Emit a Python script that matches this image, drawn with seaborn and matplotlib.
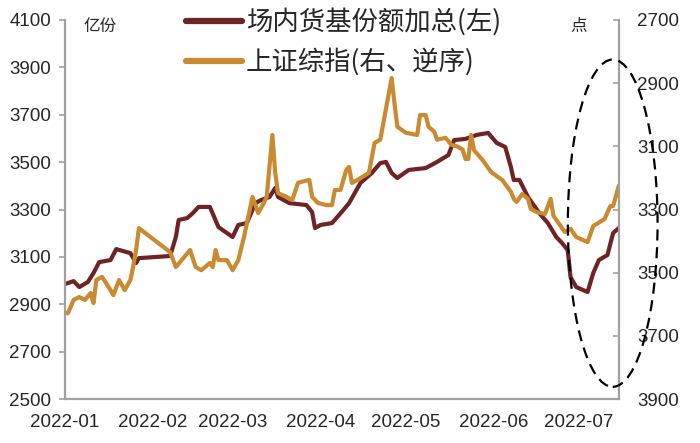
import matplotlib
matplotlib.use("Agg")
import matplotlib.pyplot as plt
import matplotlib.dates as mdates
from matplotlib.patches import Ellipse
import pandas as pd
import seaborn as sns

# 场内货基份额加总 (亿份, left axis)
fund_dates = [
    "2022-01-01", "2022-01-04", "2022-01-06", "2022-01-09", "2022-01-11", "2022-01-13",
    "2022-01-17", "2022-01-19", "2022-01-24", "2022-01-26", "2022-01-27", "2022-02-07",
    "2022-02-09", "2022-02-10", "2022-02-13", "2022-02-15", "2022-02-17", "2022-02-21",
    "2022-02-24", "2022-03-01", "2022-03-03", "2022-03-06", "2022-03-09", "2022-03-11",
    "2022-03-14", "2022-03-16", "2022-03-17", "2022-03-21", "2022-03-27", "2022-03-29",
    "2022-03-30", "2022-04-01", "2022-04-05", "2022-04-09", "2022-04-11", "2022-04-15",
    "2022-04-19", "2022-04-22", "2022-04-24", "2022-04-26", "2022-04-28", "2022-05-02",
    "2022-05-08", "2022-05-12", "2022-05-16", "2022-05-18", "2022-05-22", "2022-05-26",
    "2022-05-30", "2022-06-02", "2022-06-05", "2022-06-07", "2022-06-08", "2022-06-10",
    "2022-06-13", "2022-06-17", "2022-06-20", "2022-06-23", "2022-06-25", "2022-06-27",
    "2022-06-28", "2022-06-30", "2022-07-04", "2022-07-06", "2022-07-08", "2022-07-11",
    "2022-07-13", "2022-07-15",
]
fund_values = [
    2986, 2998, 2973, 2994, 3032, 3078,
    3087, 3133, 3116, 3074, 3095, 3104,
    3184, 3256, 3264, 3285, 3311, 3311,
    3226, 3184, 3235, 3243, 3327, 3340,
    3353, 3391, 3353, 3327, 3319, 3289,
    3222, 3235, 3243, 3298, 3327, 3412,
    3454, 3496, 3501, 3454, 3433, 3467,
    3475, 3501, 3530, 3593, 3598, 3615,
    3623, 3581, 3564, 3479, 3425, 3425,
    3353, 3285, 3243, 3184, 3159, 3129,
    3015, 2973, 2952, 3032, 3087, 3108,
    3201, 3222,
]

# 上证综指 (点, right axis, reversed)
sse_dates = [
    "2022-01-01", "2022-01-02", "2022-01-04", "2022-01-06", "2022-01-08", "2022-01-10",
    "2022-01-11", "2022-01-12", "2022-01-14", "2022-01-17", "2022-01-18", "2022-01-20",
    "2022-01-22", "2022-01-24", "2022-01-25", "2022-01-26", "2022-01-27", "2022-02-07",
    "2022-02-09", "2022-02-12", "2022-02-14", "2022-02-16", "2022-02-18", "2022-02-21",
    "2022-02-22", "2022-02-23", "2022-02-24", "2022-02-27", "2022-03-01", "2022-03-03",
    "2022-03-05", "2022-03-07", "2022-03-08", "2022-03-10", "2022-03-12", "2022-03-13",
    "2022-03-15", "2022-03-16", "2022-03-17", "2022-03-20", "2022-03-22", "2022-03-24",
    "2022-03-25", "2022-03-28", "2022-03-29", "2022-03-31", "2022-04-03", "2022-04-05",
    "2022-04-06", "2022-04-08", "2022-04-10", "2022-04-11", "2022-04-12", "2022-04-14",
    "2022-04-18", "2022-04-20", "2022-04-22", "2022-04-26", "2022-04-27", "2022-04-28",
    "2022-05-01", "2022-05-05", "2022-05-06", "2022-05-08", "2022-05-09", "2022-05-11",
    "2022-05-12", "2022-05-15", "2022-05-17", "2022-05-19", "2022-05-21", "2022-05-22",
    "2022-05-23", "2022-05-24", "2022-05-25", "2022-05-28", "2022-05-31", "2022-06-04",
    "2022-06-07", "2022-06-08", "2022-06-09", "2022-06-11", "2022-06-13", "2022-06-14",
    "2022-06-16", "2022-06-19", "2022-06-21", "2022-06-22", "2022-06-26", "2022-06-28",
    "2022-06-30", "2022-07-04", "2022-07-06", "2022-07-10", "2022-07-12", "2022-07-13",
    "2022-07-15",
]
sse_values = [
    3628, 3628, 3586, 3577, 3586, 3564,
    3596, 3523, 3513, 3555, 3571, 3523,
    3555, 3523, 3479, 3428, 3359, 3435,
    3482, 3450, 3428, 3482, 3492, 3469,
    3482, 3428, 3460, 3460, 3492, 3460,
    3387, 3302, 3260, 3311, 3279, 3260,
    3064, 3184, 3248, 3260, 3270, 3216,
    3213, 3206, 3260, 3279, 3286, 3286,
    3238, 3238, 3175, 3165, 3216, 3206,
    3184, 3089, 3079, 2884, 2963, 3038,
    3057, 3064, 3001, 3001, 3038, 3054,
    3079, 3073, 3095, 3100, 3110, 3140,
    3140, 3064, 3112, 3143, 3181, 3207,
    3244, 3266, 3276, 3251, 3266, 3298,
    3308, 3314, 3266, 3320, 3371, 3361,
    3387, 3403, 3352, 3330, 3289, 3289,
    3225,
]

left_ticks = [2500, 2700, 2900, 3100, 3300, 3500, 3700, 3900, 4100]
right_ticks = [2700, 2900, 3100, 3300, 3500, 3700, 3900]

fund_label = "场内货基份额加总(左)"
sse_label = "上证综指(右、逆序)"

maroon = "#6E2326"
gold = "#C98A32"
spine_gray = "#A0A0A0"

sns.set_style("white")
plt.rcParams["font.family"] = ["Liberation Sans", "Noto Sans CJK SC", "DejaVu Sans"]

fund_df = pd.DataFrame({"date": pd.to_datetime(fund_dates), "value": fund_values})
sse_df = pd.DataFrame({"date": pd.to_datetime(sse_dates), "value": sse_values})

fig = plt.figure(figsize=(7, 4.43), dpi=100)
ax = fig.add_axes([0.093, 0.099, 0.791, 0.856])
ax2 = ax.twinx()

sns.lineplot(data=fund_df, x="date", y="value", ax=ax, color=maroon, linewidth=3,
             label=fund_label, legend=False)
sns.lineplot(data=sse_df, x="date", y="value", ax=ax2, color=gold, linewidth=3,
             label=sse_label, legend=False)

ax.set_xlim(pd.Timestamp("2022-01-01"), pd.Timestamp("2022-07-15"))
ax.set_ylim(2500, 4100)
ax.set_yticks(left_ticks)
ax2.set_ylim(3900, 2700)
ax2.set_yticks(right_ticks)

ax.xaxis.set_major_locator(mdates.MonthLocator())
ax.xaxis.set_major_formatter(mdates.DateFormatter("%Y-%m"))

for a in (ax, ax2):
    a.set_xlabel("")
    a.set_ylabel("")
    for side in ("left", "right", "bottom"):
        a.spines[side].set_color(spine_gray)
        a.spines[side].set_linewidth(1.5)
    a.spines["top"].set_visible(False)

ax.tick_params(axis="y", direction="out", length=4, width=1.2, color=spine_gray,
               labelsize=13.5, pad=6)
ax.tick_params(axis="x", direction="in", length=5, width=1.2, color=spine_gray,
               labelsize=13.5, pad=11)
ax2.tick_params(axis="y", direction="in", length=4, width=1.2, color=spine_gray,
                labelsize=13.5, pad=13)

ax.text(0.033, 1.005, "亿份", transform=ax.transAxes, fontsize=12,
        family=["Noto Sans CJK SC"], va="top", ha="left")
ax.text(0.913, 1.005, "点", transform=ax.transAxes, fontsize=12,
        family=["Noto Sans CJK SC"], va="top", ha="left")

# dashed ellipse highlighting the recent divergence
ring = Ellipse((0.989, 0.464), width=0.162, height=0.863, transform=ax.transAxes,
               fill=False, edgecolor="black", linestyle=(0, (5, 3)), linewidth=1.6,
               clip_on=False, zorder=5)
ax2.add_patch(ring)

h1, l1 = ax.get_legend_handles_labels()
h2, l2 = ax2.get_legend_handles_labels()
leg = fig.legend(h1 + h2, l1 + l2, loc="upper left", bbox_to_anchor=(0.232, 1.035),
                 frameon=False, handlelength=2.1, handletextpad=0.15, labelspacing=0.45,
                 prop={"family": ["Noto Sans CJK SC"], "size": 19})
for line in leg.get_lines():
    line.set_linewidth(4.5)

fig.savefig("out.png", dpi=100)
